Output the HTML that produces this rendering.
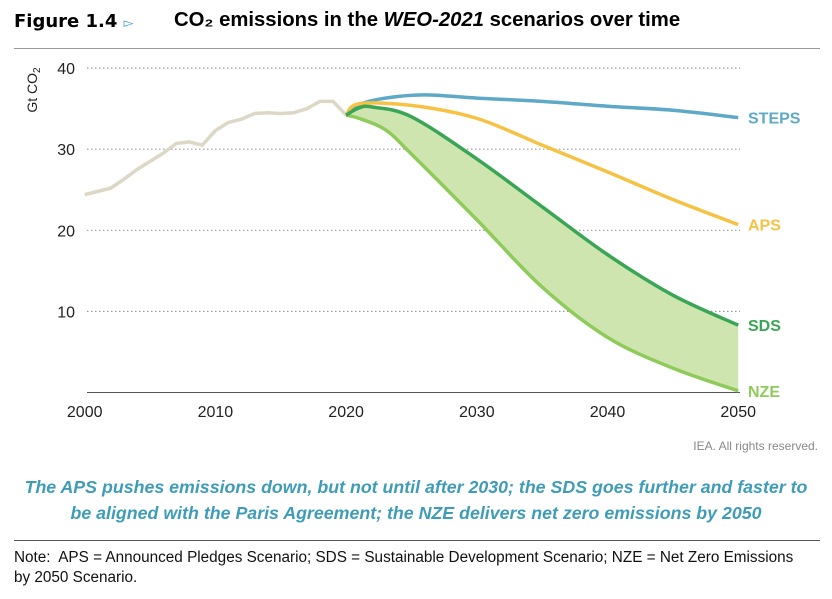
<!DOCTYPE html>
<html><head><meta charset="utf-8"><style>
body{margin:0;background:#fff;font-family:"Liberation Sans",sans-serif;}
#w{position:relative;width:832px;height:599px;overflow:hidden;}
.t{position:absolute;white-space:nowrap;}
</style></head><body><div id="w">
<div class="t" style="left:14px;top:11px;font-size:18px;font-weight:bold;font-family:'DejaVu Sans',sans-serif">Figure 1.4 <span style="color:#4aa3c4;font-size:13px">▻</span></div>
<div class="t" style="left:174px;top:9px;font-size:20.3px;font-weight:bold">CO₂ emissions in the <i>WEO-2021</i> scenarios over time</div>
<div style="position:absolute;left:14px;top:48px;width:806px;height:1px;background:#999"></div>
<svg id="c" width="832" height="599" style="position:absolute;left:0;top:0"></svg>
<div class="t" style="right:14px;top:439px;font-size:12px;color:#888">IEA. All rights reserved.</div>
<div class="t" style="left:0;width:832px;text-align:center;top:474px;font-size:17.8px;line-height:26px;font-weight:bold;font-style:italic;color:#3f9cb8">The APS pushes emissions down, but not until after 2030; the SDS goes further and faster to<br>be aligned with the Paris Agreement; the NZE delivers net zero emissions by 2050</div>
<div style="position:absolute;left:14px;top:540px;width:806px;height:1px;background:#555"></div>
<div class="t" style="left:14px;top:548px;font-size:15.3px;line-height:20px;color:#111">Note:&nbsp; APS = Announced Pledges Scenario; SDS = Sustainable Development Scenario; NZE = Net Zero Emissions<br>by 2050 Scenario.</div>
</div>
<script>
const histYears=[2000,2001,2002,2003,2004,2005,2006,2007,2008,2009,2010,2011,2012,2013,2014,2015,2016,2017,2018,2019,2020];
const histValues=[24.4,24.8,25.2,26.3,27.5,28.5,29.5,30.7,30.9,30.5,32.3,33.3,33.7,34.4,34.5,34.4,34.5,35.0,35.9,35.9,34.2];
const stepsYears=[2020,2021,2023,2026,2030,2035,2040,2045,2050];
const stepsValues=[34.2,35.5,36.3,36.7,36.3,35.9,35.3,34.8,33.9];
const apsYears=[2020,2021,2025,2030,2035,2040,2045,2050];
const apsValues=[34.2,35.6,35.4,33.8,30.5,27.2,23.8,20.7];
const sdsYears=[2020,2021,2022,2025,2030,2035,2040,2045,2050];
const sdsValues=[34.2,35.1,35.2,34.0,28.8,22.9,17.0,12.0,8.3];
const nzeYears=[2020,2021,2023,2025,2030,2035,2040,2045,2050];
const nzeValues=[34.2,33.8,32.4,29.4,21.3,13.0,6.8,3.0,0.2];
const yTicks=[10,20,30,40];
const xTicks=[2000,2010,2020,2030,2040,2050];
const X=y=>84.7+(y-2000)*13.07, Y=v=>392.5-v*8.11;
const svg=document.getElementById('c'),NS='http://www.w3.org/2000/svg';
function mk(t,a){const e=document.createElementNS(NS,t);for(const k in a)e.setAttribute(k,a[k]);svg.appendChild(e);return e;}
function pts(ys,vs){return ys.map((y,i)=>[X(y),Y(vs[i])]);}
function curve(p){let d='M'+p[0][0]+','+p[0][1];for(let i=0;i<p.length-1;i++){const p0=p[i-1]||p[i],p1=p[i],p2=p[i+1],p3=p[i+2]||p2;
d+=`C${p1[0]+(p2[0]-p0[0])/6},${p1[1]+(p2[1]-p0[1])/6} ${p2[0]-(p3[0]-p1[0])/6},${p2[1]-(p3[1]-p1[1])/6} ${p2[0]},${p2[1]}`;}return d;}
function poly(p){return 'M'+p.map(q=>q.join(',')).join('L');}
yTicks.forEach(v=>{const g=mk('line',{x1:87,x2:740,y1:Y(v),y2:Y(v),stroke:'#999','stroke-dasharray':'1.5 2.5','stroke-width':1.2});

const t=mk('text',{x:75,y:Y(v)+6,'text-anchor':'end','font-size':16,fill:'#222'});t.textContent=v;
});
const yl=mk('text',{transform:'translate(37,90) rotate(-90)','text-anchor':'middle','font-size':14,fill:'#222'});yl.innerHTML='Gt CO<tspan font-size="10" dy="3">2</tspan>';

const ax=mk('line',{x1:87,x2:740,y1:392.5,y2:392.5,stroke:'#555','stroke-width':1});

xTicks.forEach(v=>{const t=mk('text',{x:X(v),y:417,'text-anchor':'middle','font-size':16,fill:'#222'});t.textContent=v;
});
const sp=pts(sdsYears,sdsValues),np=pts(nzeYears,nzeValues);
const band=mk('path',{d:curve(sp)+'L'+np[np.length-1].join(',')+curve(np.slice().reverse()).replace(/^M[^C]*/,'')+'Z',fill:'#cfe5b0'});

function line(name,d,col){const p=mk('path',{d:d,fill:'none',stroke:col,'stroke-width':3.5,'stroke-linejoin':'round'});
}
line('historical-line',poly(pts(histYears,histValues)),'#ddd8c6');
line('steps-line',curve(pts(stepsYears,stepsValues)),'#5ea9c7');
line('aps-line',curve(pts(apsYears,apsValues)),'#f6c244');
line('nze-line',curve(np),'#8fcb5a');
line('sds-line',curve(sp),'#3aa655');
[['STEPS',stepsValues,'#5ea9c7'],['APS',apsValues,'#f6c244'],['SDS',sdsValues,'#3aa655'],['NZE',nzeValues,'#8fcb5a']].forEach(([n,v,c])=>{
const t=mk('text',{x:748,y:Y(v[v.length-1])+6,'font-size':16,'font-weight':'bold',fill:c});t.textContent=n;
});
</script></body></html>
